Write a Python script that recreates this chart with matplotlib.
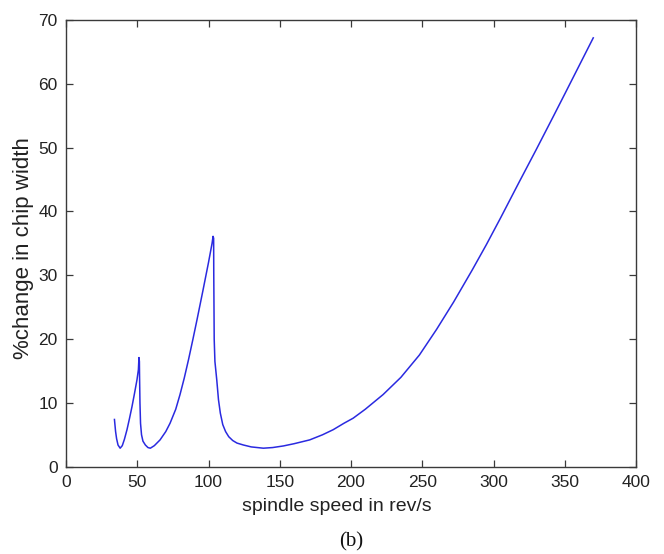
import matplotlib
matplotlib.use("Agg")
import matplotlib.pyplot as plt

# spindle speed (rev/s)
speed = [34.0, 34.8, 35.5, 36.5, 38.0, 39.5, 41.0, 42.8, 44.5, 46.3, 48.0, 49.8,
         50.8, 51.2, 51.5, 51.6, 51.9, 52.3, 53.0, 54.0, 55.7, 57.5, 59.2, 62.0,
         66.0, 70.0, 73.0, 77.0, 80.0, 83.0, 86.0, 89.0, 92.0, 96.0, 100.0, 102.5,
         103.2, 103.6, 103.7, 103.8, 104.0, 104.5, 105.8, 107.0, 108.3, 110.0, 112.0,
         114.2, 117.0, 120.0, 124.5, 130.0, 138.5, 145.0, 152.5, 160.0, 171.0, 180.0,
         187.5, 195.0, 201.5, 210.0, 222.5, 235.0, 248.0, 260.0, 272.0, 285.0, 295.0,
         305.0, 318.0, 330.0, 342.0, 350.0, 360.0, 370.0]
# % change in chip width
change = [7.4, 5.5, 4.4, 3.4, 2.9, 3.3, 4.3, 5.8, 7.5, 9.4, 11.4, 13.6,
          15.2, 17.1, 16.5, 14.5, 10.0, 6.8, 5.0, 4.0, 3.4, 3.0, 2.9, 3.3,
          4.2, 5.5, 6.8, 9.0, 11.3, 13.9, 16.8, 19.9, 23.1, 27.5, 32.0, 35.0,
          36.1, 35.8, 30.0, 26.7, 20.0, 16.5, 13.6, 10.5, 8.4, 6.6, 5.5,
          4.7, 4.1, 3.7, 3.4, 3.1, 2.9, 3.0, 3.25, 3.6, 4.2, 5.0,
          5.8, 6.8, 7.6, 9.0, 11.3, 14.0, 17.5, 21.5, 25.8, 30.8, 34.8,
          39.0, 44.6, 49.7, 54.9, 58.4, 62.8, 67.2]

x_ticks = [0, 50, 100, 150, 200, 250, 300, 350, 400]
y_ticks = [0, 10, 20, 30, 40, 50, 60, 70]

plt.rcParams['font.family'] = ['Liberation Sans', 'DejaVu Sans']

fig = plt.figure(figsize=(6.64, 5.54), dpi=100)
fig.patch.set_facecolor('white')
ax = fig.add_axes([66/664, 1-466.7/554, 570/664, 446.7/554])
ax.plot(speed, change, color='#2a2ae0', lw=1.1)

ax.set_xlim(0, 400)
ax.set_ylim(0, 70)
ax.set_xticks(x_ticks)
ax.set_yticks(y_ticks)
for s in ax.spines.values():
    s.set_color('#3a3a3a')
    s.set_linewidth(1.0)
ax.tick_params(direction='in', length=5, width=0.9, colors='#3a3a3a',
               labelcolor='#222222', labelsize=12.5, top=True, right=True, pad=6)
ax.set_xlabel('spindle speed in rev/s', fontsize=14, color='#222222')
ax.xaxis.set_label_coords((337-66)/570, -(498-466.7)/446.7)
ax.set_ylabel('%change in chip width', fontsize=16, color='#222222')
ax.yaxis.set_label_coords(-(66-34)/570, (466.7-248)/446.7)

fig.text((66+636)/2/664, 1-542/554, '(b)', family=['Liberation Serif', 'DejaVu Serif'],
         fontsize=15, ha='center', va='center', color='#111111')

fig.savefig('out.png', dpi=100, facecolor='white')
